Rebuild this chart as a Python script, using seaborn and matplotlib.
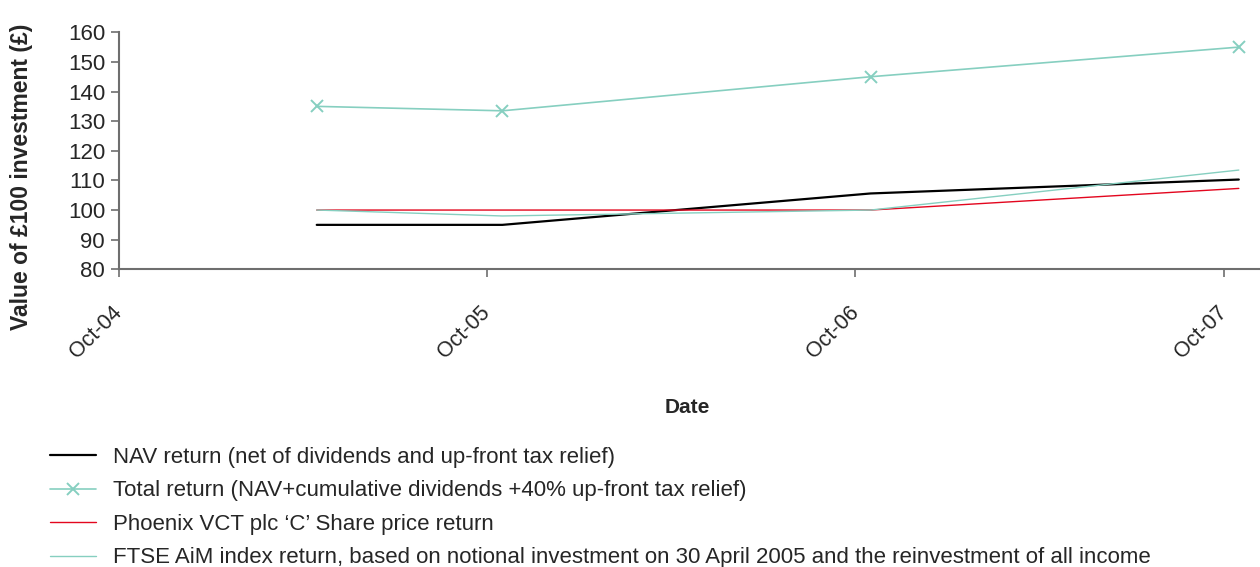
import matplotlib
matplotlib.use("Agg")
import matplotlib.pyplot as plt
import seaborn as sns
import pandas as pd

# values
dates = pd.to_datetime(["2005-04-15", "2005-10-16", "2006-10-16", "2007-10-16"])
nav_return = [95, 95, 105.6, 110.3]
total_return = [135, 133.5, 145, 155]
share_price = [100, 100, 100, 107.3]
ftse_aim = [100, 98, 100, 113.5]

tick_dates = pd.to_datetime(["2004-10-01", "2005-10-01", "2006-10-01", "2007-10-01"])
tick_labels = ["Oct-04", "Oct-05", "Oct-06", "Oct-07"]
y_ticks = [80, 90, 100, 110, 120, 130, 140, 150, 160]

labels = [
    "NAV return (net of dividends and up-front tax relief)",
    "Total return (NAV+cumulative dividends +40% up-front tax relief)",
    "Phoenix VCT plc \u2018C\u2019 Share price return",
    "FTSE AiM index return, based on notional investment on 30 April 2005 and the reinvestment of all income",
]

teal = "#86cfc0"
red = "#e3061e"
grey = "#6e6e6e"

sns.set_style("white")
plt.rcParams["font.family"] = ["Liberation Sans Narrow", "Liberation Sans", "DejaVu Sans"]

fig = plt.figure(figsize=(12.6, 5.67), dpi=100)
ax = fig.add_axes([119 / 1260, 1 - 269.3 / 567, 1 - 119 / 1260, (269.3 - 32.3) / 567])

sns.lineplot(x=dates, y=nav_return, color="black", linewidth=1.6, ax=ax, label=labels[0])
sns.lineplot(x=dates, y=total_return, color=teal, linewidth=1.2, marker="x", markersize=9,
             markeredgewidth=1.4, markeredgecolor=teal, ax=ax, label=labels[1])
sns.lineplot(x=dates, y=share_price, color=red, linewidth=1.0, ax=ax, label=labels[2])
sns.lineplot(x=dates, y=ftse_aim, color=teal, linewidth=1.0, ax=ax, label=labels[3])

ax.set_xlim(pd.Timestamp("2004-10-01"), pd.Timestamp("2007-11-06"))
ax.set_ylim(80, 160)
ax.set_yticks(y_ticks)
ax.set_xticks(tick_dates)
ax.set_xticklabels(tick_labels, rotation=45, ha="right", va="center", rotation_mode="anchor")
ax.tick_params(axis="x", length=6, width=1.2, color=grey, pad=23, labelsize=15.5, direction="out", bottom=True)
ax.tick_params(axis="y", length=6, width=1.2, color=grey, pad=4, labelsize=16, direction="out", left=True)

for s in ["top", "right"]:
    ax.spines[s].set_visible(False)
for s in ["left", "bottom"]:
    ax.spines[s].set_color(grey)
    ax.spines[s].set_linewidth(1.5)

ax.set_xlabel("Date", fontsize=15, fontweight="bold")
ax.xaxis.set_label_coords(0.498, -0.543)
ax.xaxis.label.set_va("top")
ax.set_ylabel("Value of \u00a3100 investment (\u00a3)", fontsize=16.5, fontweight="bold",
              family=["Liberation Sans", "DejaVu Sans"])
ax.yaxis.set_label_coords(-0.075, 0.39)

handles, _ = ax.get_legend_handles_labels()
ax.get_legend().remove()
fig.legend(handles, labels, loc="upper left", bbox_to_anchor=(50 / 1260, 1 - 447 / 567),
           frameon=False, fontsize=16, handlelength=2.05, handletextpad=0.8,
           labelspacing=0.56, borderpad=0, borderaxespad=0, numpoints=1)

fig.savefig("out.png", dpi=100)
